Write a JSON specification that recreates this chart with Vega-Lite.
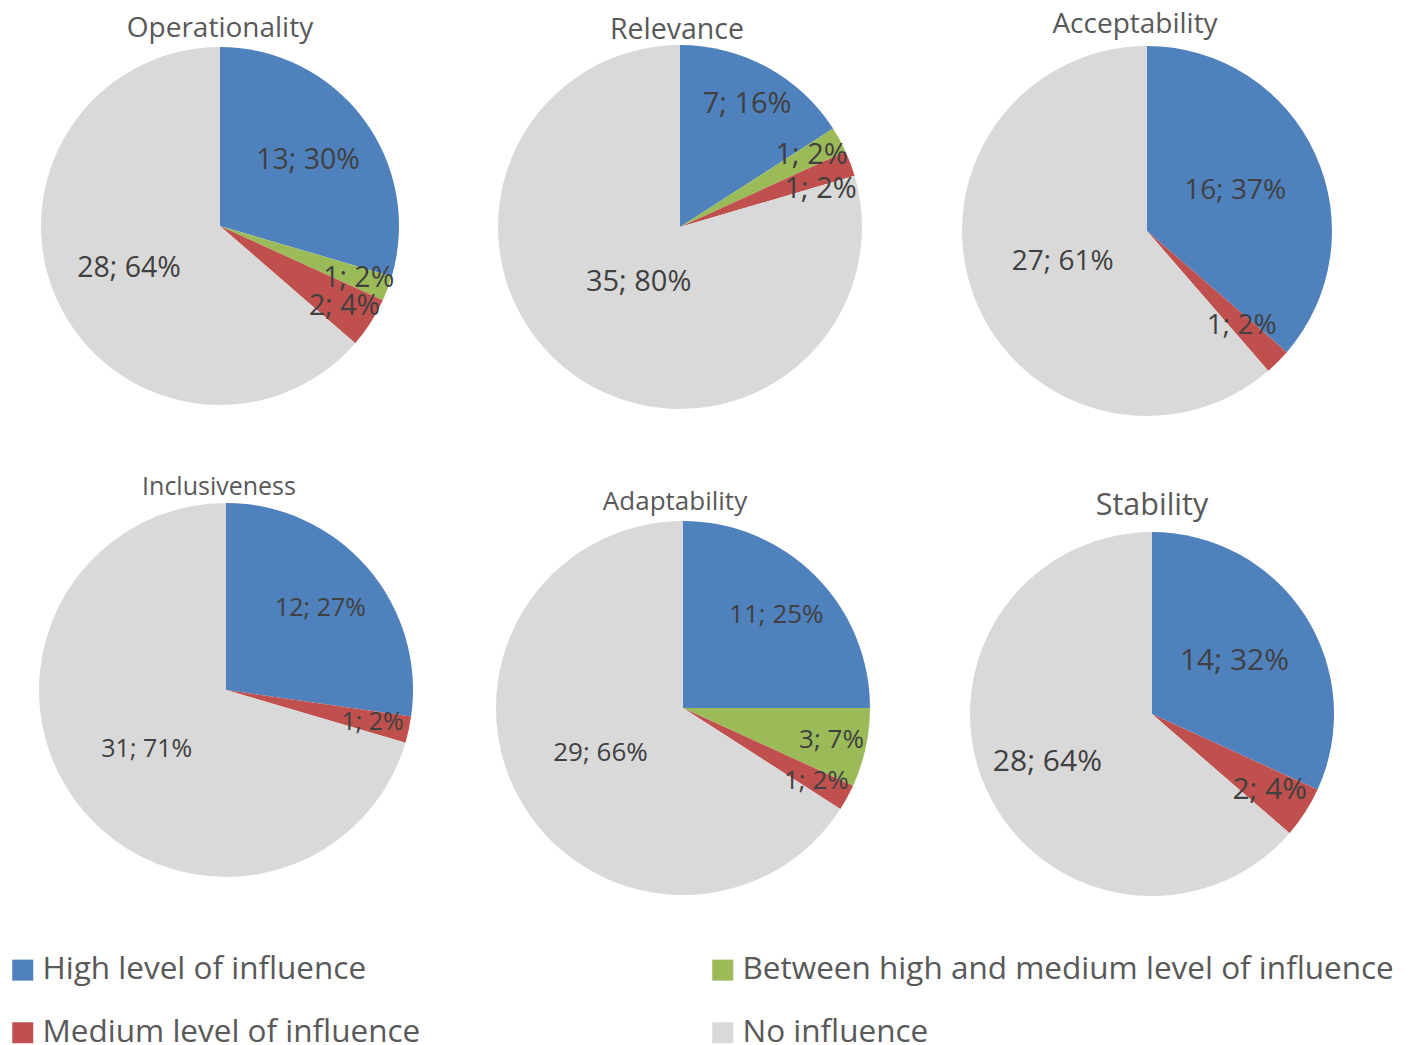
{
  "$schema": "https://vega.github.io/schema/vega-lite/v6.json",
  "background": "white",
  "padding": {"left": 0, "top": 11, "right": 0, "bottom": 0},
  "datasets": {
    "pies": [
      {"chart": "Operationality", "category": "High level of influence", "order": 1, "count": 13, "label": "13; 30%"},
      {"chart": "Operationality", "category": "Between high and medium level of influence", "order": 2, "count": 1, "label": "1; 2%"},
      {"chart": "Operationality", "category": "Medium level of influence", "order": 3, "count": 2, "label": "2; 4%"},
      {"chart": "Operationality", "category": "No influence", "order": 4, "count": 28, "label": "28; 64%"},
      {"chart": "Relevance", "category": "High level of influence", "order": 1, "count": 7, "label": "7; 16%"},
      {"chart": "Relevance", "category": "Between high and medium level of influence", "order": 2, "count": 1, "label": "1; 2%"},
      {"chart": "Relevance", "category": "Medium level of influence", "order": 3, "count": 1, "label": "1; 2%"},
      {"chart": "Relevance", "category": "No influence", "order": 4, "count": 35, "label": "35; 80%"},
      {"chart": "Acceptability", "category": "High level of influence", "order": 1, "count": 16, "label": "16; 37%"},
      {"chart": "Acceptability", "category": "Medium level of influence", "order": 3, "count": 1, "label": "1; 2%"},
      {"chart": "Acceptability", "category": "No influence", "order": 4, "count": 27, "label": "27; 61%"},
      {"chart": "Inclusiveness", "category": "High level of influence", "order": 1, "count": 12, "label": "12; 27%"},
      {"chart": "Inclusiveness", "category": "Medium level of influence", "order": 3, "count": 1, "label": "1; 2%"},
      {"chart": "Inclusiveness", "category": "No influence", "order": 4, "count": 31, "label": "31; 71%"},
      {"chart": "Adaptability", "category": "High level of influence", "order": 1, "count": 11, "label": "11; 25%"},
      {"chart": "Adaptability", "category": "Between high and medium level of influence", "order": 2, "count": 3, "label": "3; 7%"},
      {"chart": "Adaptability", "category": "Medium level of influence", "order": 3, "count": 1, "label": "1; 2%"},
      {"chart": "Adaptability", "category": "No influence", "order": 4, "count": 29, "label": "29; 66%"},
      {"chart": "Stability", "category": "High level of influence", "order": 1, "count": 14, "label": "14; 32%"},
      {"chart": "Stability", "category": "Medium level of influence", "order": 3, "count": 2, "label": "2; 4%"},
      {"chart": "Stability", "category": "No influence", "order": 4, "count": 28, "label": "28; 64%"}
    ]
  },
  "config": {
    "view": {"stroke": null},
    "title": {"font": "Open Sans", "fontWeight": "normal", "color": "#595959", "anchor": "middle"},
    "text": {"font": "Open Sans", "color": "#404040"},
    "arc": {"stroke": null}
  },
  "spacing": 59,
  "vconcat": [
    {
      "spacing": 20,
      "hconcat": [
        {
          "width": 440, "height": 360,
          "title": {"text": "Operationality", "fontSize": 28, "offset": 3},
          "data": {"name": "pies"},
          "transform": [{"filter": "datum.chart === 'Operationality'"}],
          "encoding": {
            "theta": {"field": "count", "type": "quantitative", "stack": true},
            "order": {"field": "order", "type": "ordinal"}
          },
          "layer": [
            {"mark": {"type": "arc", "outerRadius": 179},
             "encoding": {"color": {"field": "category", "type": "nominal",
               "scale": {"domain": ["High level of influence", "Between high and medium level of influence", "Medium level of influence", "No influence"], "range": ["#4f81bd", "#9bbb59", "#c0504d", "#d9d9d9"]},
               "legend": {"orient": "none", "legendX": 7, "legendY": 908, "direction": "horizontal", "columns": 2, "columnPadding": 286, "rowPadding": 30, "symbolType": "square", "symbolSize": 441, "symbolStrokeWidth": 0, "labelFontSize": 31.5, "labelFont": "Open Sans", "labelColor": "#595959", "labelOffset": 4, "labelLimit": 0, "title": null, "padding": 0}}}},
            {"mark": {"type": "text", "fontSize": 28.5, "radius": {"expr": "datum.count <= 3 ? 148 : (datum.category === 'No influence' ? 100 : 110)"}},
             "encoding": {"text": {"field": "label", "type": "nominal"}}}
          ]
        },
        {
          "width": 440, "height": 362,
          "title": {"text": "Relevance", "fontSize": 28.5, "offset": 1, "dx": -3},
          "data": {"name": "pies"},
          "transform": [{"filter": "datum.chart === 'Relevance'"}],
          "encoding": {
            "theta": {"field": "count", "type": "quantitative", "stack": true},
            "order": {"field": "order", "type": "ordinal"}
          },
          "layer": [
            {"mark": {"type": "arc", "outerRadius": 182},
             "encoding": {"color": {"field": "category", "type": "nominal",
               "scale": {"domain": ["High level of influence", "Between high and medium level of influence", "Medium level of influence", "No influence"], "range": ["#4f81bd", "#9bbb59", "#c0504d", "#d9d9d9"]},
               "legend": {"orient": "none", "legendX": 7, "legendY": 908, "direction": "horizontal", "columns": 2, "columnPadding": 286, "rowPadding": 30, "symbolType": "square", "symbolSize": 441, "symbolStrokeWidth": 0, "labelFontSize": 31.5, "labelFont": "Open Sans", "labelColor": "#595959", "labelOffset": 4, "labelLimit": 0, "title": null, "padding": 0}}}},
            {"mark": {"type": "text", "fontSize": 29, "radius": {"expr": "datum.category === 'No influence' ? 69 : (datum.count <= 3 ? 150 : 140)"}, "baseline": {"expr": "datum.category === 'Medium level of influence' ? 'top' : 'middle'"}},
             "encoding": {"text": {"field": "label", "type": "nominal"}}}
          ]
        },
        {
          "width": 454, "height": 370,
          "title": {"text": "Acceptability", "fontSize": 28, "offset": 7, "dx": -12},
          "data": {"name": "pies"},
          "transform": [{"filter": "datum.chart === 'Acceptability'"}],
          "encoding": {
            "theta": {"field": "count", "type": "quantitative", "stack": true},
            "order": {"field": "order", "type": "ordinal"}
          },
          "layer": [
            {"mark": {"type": "arc", "outerRadius": 185},
             "encoding": {"color": {"field": "category", "type": "nominal",
               "scale": {"domain": ["High level of influence", "Between high and medium level of influence", "Medium level of influence", "No influence"], "range": ["#4f81bd", "#9bbb59", "#c0504d", "#d9d9d9"]},
               "legend": {"orient": "none", "legendX": 7, "legendY": 908, "direction": "horizontal", "columns": 2, "columnPadding": 286, "rowPadding": 30, "symbolType": "square", "symbolSize": 441, "symbolStrokeWidth": 0, "labelFontSize": 31.5, "labelFont": "Open Sans", "labelColor": "#595959", "labelOffset": 4, "labelLimit": 0, "title": null, "padding": 0}}}},
            {"mark": {"type": "text", "fontSize": 28, "radius": {"expr": "datum.count <= 3 ? 134 : (datum.category === 'No influence' ? 90 : 97)"}},
             "encoding": {"text": {"field": "label", "type": "nominal"}}}
          ]
        }
      ]
    },
    {
      "spacing": 20,
      "hconcat": [
        {
          "width": 452, "height": 336,
          "title": {"text": "Inclusiveness", "fontSize": 25, "offset": 3, "dx": -7},
          "data": {"name": "pies"},
          "transform": [{"filter": "datum.chart === 'Inclusiveness'"}],
          "encoding": {
            "theta": {"field": "count", "type": "quantitative", "stack": true},
            "order": {"field": "order", "type": "ordinal"}
          },
          "layer": [
            {"mark": {"type": "arc", "outerRadius": 187},
             "encoding": {"color": {"field": "category", "type": "nominal",
               "scale": {"domain": ["High level of influence", "Between high and medium level of influence", "Medium level of influence", "No influence"], "range": ["#4f81bd", "#9bbb59", "#c0504d", "#d9d9d9"]},
               "legend": {"orient": "none", "legendX": 7, "legendY": 908, "direction": "horizontal", "columns": 2, "columnPadding": 286, "rowPadding": 30, "symbolType": "square", "symbolSize": 441, "symbolStrokeWidth": 0, "labelFontSize": 31.5, "labelFont": "Open Sans", "labelColor": "#595959", "labelOffset": 4, "labelLimit": 0, "title": null, "padding": 0}}}},
            {"mark": {"type": "text", "fontSize": 25, "radius": {"expr": "datum.count <= 3 ? 150 : (datum.category === 'No influence' ? 99 : 125)"}},
             "encoding": {"text": {"field": "label", "type": "nominal"}}}
          ]
        },
        {
          "width": 422, "height": 372,
          "title": {"text": "Adaptability", "fontSize": 26, "offset": 6.5, "dx": -8},
          "data": {"name": "pies"},
          "transform": [{"filter": "datum.chart === 'Adaptability'"}],
          "encoding": {
            "theta": {"field": "count", "type": "quantitative", "stack": true},
            "order": {"field": "order", "type": "ordinal"}
          },
          "layer": [
            {"mark": {"type": "arc", "outerRadius": 187},
             "encoding": {"color": {"field": "category", "type": "nominal",
               "scale": {"domain": ["High level of influence", "Between high and medium level of influence", "Medium level of influence", "No influence"], "range": ["#4f81bd", "#9bbb59", "#c0504d", "#d9d9d9"]},
               "legend": {"orient": "none", "legendX": 7, "legendY": 908, "direction": "horizontal", "columns": 2, "columnPadding": 286, "rowPadding": 30, "symbolType": "square", "symbolSize": 441, "symbolStrokeWidth": 0, "labelFontSize": 31.5, "labelFont": "Open Sans", "labelColor": "#595959", "labelOffset": 4, "labelLimit": 0, "title": null, "padding": 0}}}},
            {"mark": {"type": "text", "fontSize": 26, "radius": {"expr": "datum.count <= 3 ? 152 : (datum.category === 'No influence' ? 94 : 132)"}},
             "encoding": {"text": {"field": "label", "type": "nominal"}}}
          ]
        },
        {
          "width": 476, "height": 384,
          "title": {"text": "Stability", "fontSize": 30.5, "offset": 1},
          "data": {"name": "pies"},
          "transform": [{"filter": "datum.chart === 'Stability'"}],
          "encoding": {
            "theta": {"field": "count", "type": "quantitative", "stack": true},
            "order": {"field": "order", "type": "ordinal"}
          },
          "layer": [
            {"mark": {"type": "arc", "outerRadius": 182},
             "encoding": {"color": {"field": "category", "type": "nominal",
               "scale": {"domain": ["High level of influence", "Between high and medium level of influence", "Medium level of influence", "No influence"], "range": ["#4f81bd", "#9bbb59", "#c0504d", "#d9d9d9"]},
               "legend": {"orient": "none", "legendX": 7, "legendY": 908, "direction": "horizontal", "columns": 2, "columnPadding": 286, "rowPadding": 30, "symbolType": "square", "symbolSize": 441, "symbolStrokeWidth": 0, "labelFontSize": 31.5, "labelFont": "Open Sans", "labelColor": "#595959", "labelOffset": 4, "labelLimit": 0, "title": null, "padding": 0}}}},
            {"mark": {"type": "text", "fontSize": 30, "radius": {"expr": "datum.count <= 3 ? 140 : (datum.category === 'No influence' ? 115 : 98)"}},
             "encoding": {"text": {"field": "label", "type": "nominal"}}}
          ]
        }
      ]
    }
  ]
}
